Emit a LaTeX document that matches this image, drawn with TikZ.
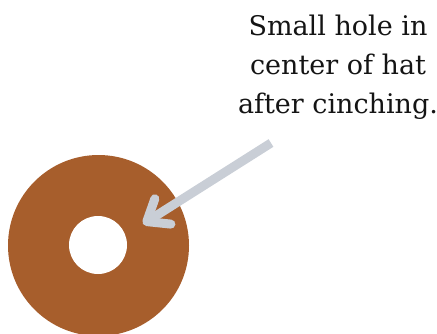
\documentclass[tikz,border=0pt]{standalone}
\usepackage{fontspec}
\setmainfont{DejaVu Serif}
\usetikzlibrary{arrows.meta}

\begin{document}
\begin{tikzpicture}[x=1pt,y=-1pt]
  \definecolor{hatbrown}{RGB}{167,94,44}
  \definecolor{arrowgray}{RGB}{201,206,214}
  \definecolor{ink}{RGB}{20,20,20}

  \useasboundingbox (0,0) rectangle (437,333);

  \node[circle, fill=hatbrown, inner sep=0pt, minimum size=181pt] (hat) at (98.5,245.5) {};
  \node[circle, fill=white, inner sep=0pt, minimum size=58pt] (hole) at (98,245) {};

  \node[anchor=north, align=center, inner sep=0pt, ink,
        font=\fontsize{27}{39}\selectfont] (note) at (338,15)
    {Small hole in\\center of hat\\after cinching.};

  \coordinate (tail) at (271,143);
  \coordinate (tip) at (143,224);
  \draw[arrowgray, line width=9pt,
        -{Straight Barb[length=19pt, width=30pt, line cap=round, line join=round]}]
    (tail) -- (tip);
\end{tikzpicture}
\end{document}
